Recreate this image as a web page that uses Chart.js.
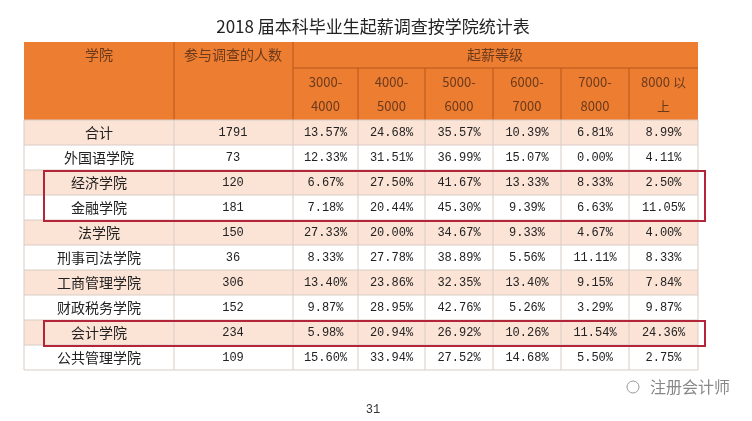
<!DOCTYPE html>
<html><head><meta charset="utf-8">
<script src="https://cdn.jsdelivr.net/npm/chart.js@4"></script>
<style>html,body{margin:0;background:#fff}#c{width:752px;height:421px}</style>
</head><body><div id="c"><canvas id="tbl"></canvas></div>
<script>
// 数据
const title = '2018 届本科毕业生起薪调查按学院统计表';
const colleges = ['合计','外国语学院','经济学院','金融学院','法学院','刑事司法学院','工商管理学院','财政税务学院','会计学院','公共管理学院'];
const counts = [1791,73,120,181,150,36,306,152,234,109];
const levels = [['3000-','4000'],['4000-','5000'],['5000-','6000'],['6000-','7000'],['7000-','8000'],['8000 以','上']];
const pct3000 = ['13.57%','12.33%','6.67%','7.18%','27.33%','8.33%','13.40%','9.87%','5.98%','15.60%'];
const pct4000 = ['24.68%','31.51%','27.50%','20.44%','20.00%','27.78%','23.86%','28.95%','20.94%','33.94%'];
const pct5000 = ['35.57%','36.99%','41.67%','45.30%','34.67%','38.89%','32.35%','42.76%','26.92%','27.52%'];
const pct6000 = ['10.39%','15.07%','13.33%','9.39%','9.33%','5.56%','13.40%','5.26%','10.26%','14.68%'];
const pct7000 = ['6.81%','0.00%','8.33%','6.63%','4.67%','11.11%','9.15%','3.29%','11.54%','5.50%'];
const pct8000 = ['8.99%','4.11%','2.50%','11.05%','4.00%','8.33%','7.84%','9.87%','24.36%','2.75%'];
const highlighted = [[2,3],[8,8]];

const colEdges = [24,174,293,358,425,493,561,629,698];
const pcts = [pct3000,pct4000,pct5000,pct6000,pct7000,pct8000];

const tablePlugin = {
  id: 'table',
  afterDraw(chart){
    const c = chart.ctx, X = chart.scales.x, Y = chart.scales.y;
    const px = v => X.getPixelForValue(v), py = v => Y.getPixelForValue(v);
    const cjk = '"Noto Sans CJK SC", sans-serif';
    c.save();
    c.textAlign = 'center'; c.textBaseline = 'middle';
    // 标题
    c.fillStyle = '#222'; c.font = '17px ' + cjk;
    c.fillText(title, px(373), py(27));
    // 表头
    const hTop = 42, hMid = 68, hBot = 120, rowH = 25;
    c.fillStyle = '#ed7d31';
    c.fillRect(px(24), py(hTop), px(698)-px(24), py(hBot)-py(hTop));
    c.strokeStyle = '#b8561c'; c.lineWidth = 1;
    c.beginPath();
    [174,293].forEach(x=>{c.moveTo(px(x),py(hTop));c.lineTo(px(x),py(hBot));});
    c.moveTo(px(293),py(hMid)); c.lineTo(px(698),py(hMid));
    for(let i=3;i<8;i++){c.moveTo(px(colEdges[i]),py(hMid));c.lineTo(px(colEdges[i]),py(hBot));}
    c.stroke();
    c.fillStyle = '#6b3a1c'; c.font = '14px ' + cjk;
    c.fillText('学院', px(99), py(55));
    c.fillText('参与调查的人数', px(233), py(55));
    c.fillText('起薪等级', px(495), py(55));
    c.font = '13px ' + cjk;
    levels.forEach((l,i)=>{
      const cx = (colEdges[i+2]+colEdges[i+3])/2;
      c.fillText(l[0], px(cx), py(82)); c.fillText(l[1], px(cx), py(106));
    });
    // 数据行
    colleges.forEach((name,r)=>{
      const top = hBot + r*rowH, mid = top + rowH/2;
      if(r%2===0){ c.fillStyle='#fbe3d6'; c.fillRect(px(24),py(top),px(698)-px(24),py(top+rowH)-py(top)); }
      c.fillStyle = '#222';
      c.font = '14px ' + cjk;
      c.fillText(name, px(99), py(mid));
      c.font = '12px "Liberation Mono", monospace';
      c.fillText(String(counts[r]), px(233), py(mid));
      pcts.forEach((arr,i)=>{
        c.fillText(arr[r], px((colEdges[i+2]+colEdges[i+3])/2), py(mid));
      });
    });
    const bottom = hBot + colleges.length*rowH;
    c.strokeStyle = '#d8cdc6';
    c.beginPath();
    colEdges.forEach(x=>{c.moveTo(px(x),py(hBot));c.lineTo(px(x),py(bottom));});
    for(let r=0;r<=colleges.length;r++){const y=hBot+r*rowH;c.moveTo(px(24),py(y));c.lineTo(px(698),py(y));}
    c.stroke();
    // 红框
    c.strokeStyle = '#b3263a'; c.lineWidth = 2;
    highlighted.forEach(([a,b])=>{
      const t = hBot + a*rowH, btm = hBot + (b+1)*rowH;
      c.strokeRect(px(44), py(t+1), px(705)-px(44), py(btm+1)-py(t+1));
    });
    // 页码与水印
    c.fillStyle = '#333'; c.font = '12px "Liberation Mono", monospace';
    c.fillText('31', px(373), py(410));
    c.fillStyle = '#888'; c.font = '16px ' + cjk;
    c.fillText('注册会计师', px(690), py(387));
    c.strokeStyle = '#999'; c.lineWidth = 1;
    c.beginPath(); c.arc(px(633), py(387), 6, 0, Math.PI*2); c.stroke();
    c.restore();
  }
};

new Chart(document.getElementById('tbl'), {
  type: 'scatter',
  data: { datasets: [{ data: [] }] },
  options: {
    responsive: true, maintainAspectRatio: false, animation: false,
    layout: { padding: 0 },
    plugins: { legend: { display: false }, tooltip: { enabled: false } },
    scales: {
      x: { display: false, min: 0, max: 752 },
      y: { display: false, min: 0, max: 421, reverse: true }
    }
  },
  plugins: [tablePlugin]
});
</script></body></html>
